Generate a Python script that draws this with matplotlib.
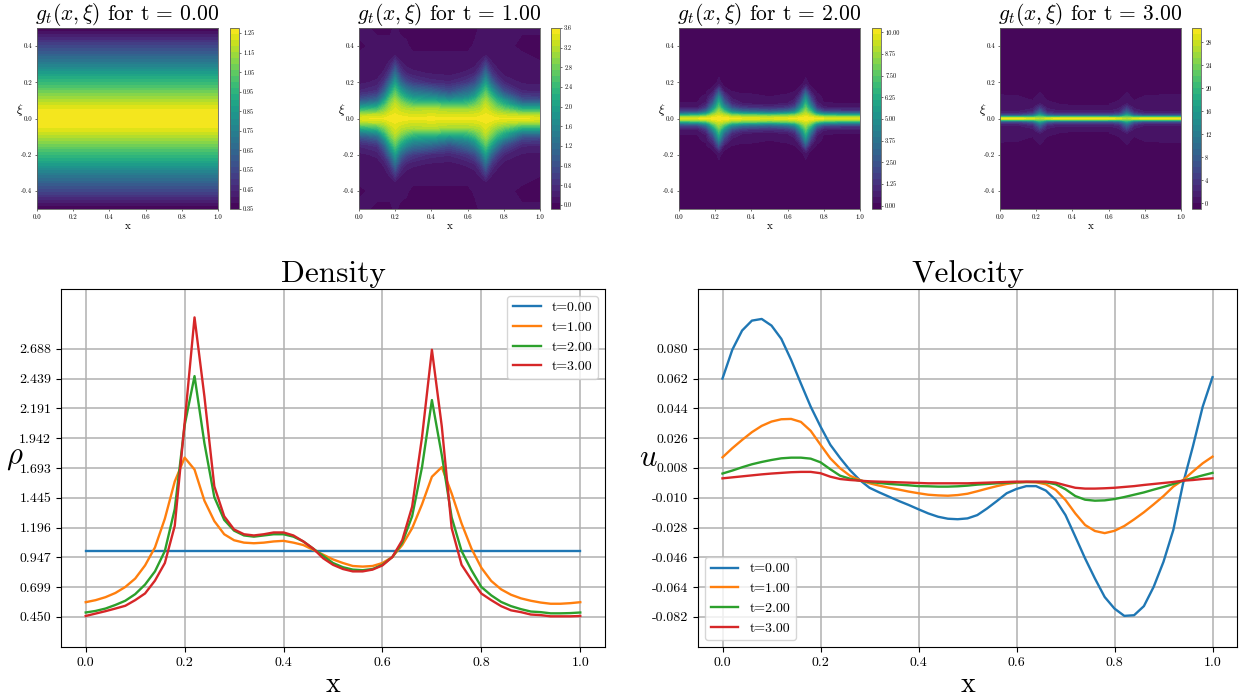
import numpy as np
import matplotlib
matplotlib.use('Agg')
import matplotlib.pyplot as plt

plt.rcParams['font.family'] = ['cmr10', 'DejaVu Serif']
plt.rcParams['mathtext.fontset'] = 'cm'
plt.rcParams['axes.unicode_minus'] = False
plt.rcParams['axes.formatter.use_mathtext'] = True

W, H = 1241, 700

times = ['0.00', '1.00', '2.00', '3.00']
x_line = [i / 50 for i in range(51)]

rho_t0 = [1.0] * 51
rho_t1 = [.573, .59, .615, .65, .70, .77, .88, 1.03, 1.27, 1.58, 1.78, 1.68, 1.42, 1.25, 1.14, 1.09, 1.07, 1.065, 1.07, 1.08, 1.085, 1.07, 1.05, 1.01, .97, .93, .90, .875, .87, .875, .90, .95, 1.05, 1.19, 1.39, 1.62, 1.70, 1.48, 1.23, 1.02, .86, .75, .68, .635, .605, .585, .57, .56, .56, .565, .573]
rho_t2 = [.487, .50, .52, .55, .585, .64, .72, .83, 1.00, 1.35, 2.05, 2.46, 1.90, 1.45, 1.26, 1.17, 1.13, 1.12, 1.13, 1.14, 1.14, 1.12, 1.08, 1.02, .96, .90, .865, .845, .84, .85, .885, .95, 1.07, 1.29, 1.70, 2.26, 1.80, 1.28, 1.0, .84, .70, .63, .575, .54, .515, .495, .49, .48, .48, .482, .487]
rho_t3 = [.458, .478, .498, .52, .543, .59, .646, .753, .90, 1.21, 2.07, 2.95, 2.29, 1.54, 1.29, 1.18, 1.14, 1.13, 1.14, 1.155, 1.155, 1.13, 1.08, 1.02, .94, .885, .85, .83, .83, .845, .88, .95, 1.09, 1.37, 1.95, 2.68, 2.04, 1.19, .885, .76, .645, .59, .54, .505, .49, .47, .465, .455, .455, .455, .458]

u_t0 = [.062, .0794, .091, .097, .098, .094, .086, .0733, .059, .045, .033, .022, .014, .0067, .0007, -.004, -.0068, -.0094, -.012, -.0144, -.017, -.0195, -.0215, -.0227, -.023, -.0225, -.0205, -.0165, -.012, -.0073, -.0047, -.003, -.003, -.0057, -.0114, -.0205, -.0335, -.0467, -.0588, -.07, -.077, -.0814, -.081, -.0755, -.0638, -.0487, -.0295, -.0013, .021, .045, .0628]
u_t1 = [.0144, .0199, .0249, .0296, .0334, .036, .0374, .0376, .0358, .0304, .022, .0138, .0078, .0033, .0007, -.0013, -.0027, -.004, -.0051, -.0063, -.0073, -.0082, -.0086, -.0088, -.0084, -.0076, -.0061, -.0045, -.003, -.0017, -.0009, -.0005, -.0007, -.0019, -.0053, -.0114, -.0195, -.0265, -.0301, -.0314, -.03, -.0271, -.0231, -.0188, -.014, -.009, -.0033, .0007, .0058, .0108, .0148]
u_t2 = [.0046, .0064, .0084, .0102, .0116, .0128, .0138, .0142, .0142, .0136, .0114, .0072, .0033, .0015, .0003, -.0005, -.0011, -.0017, -.0021, -.0025, -.003, -.0031, -.0033, -.0033, -.0031, -.0027, -.0021, -.0017, -.0013, -.0009, -.0007, -.0005, -.0005, -.0007, -.0019, -.0049, -.009, -.0112, -.0118, -.0116, -.0108, -.0096, -.0082, -.0068, -.0051, -.0035, -.0017, .0003, .0019, .0035, .005]
u_t3 = [.0017, .0023, .0029, .0035, .0041, .0046, .005, .0054, .0056, .0056, .0048, .0027, .0013, .0007, .0003, -.0001, -.0003, -.0005, -.0007, -.0009, -.0011, -.0013, -.0013, -.0013, -.0013, -.0013, -.0011, -.0009, -.0007, -.0005, -.0003, -.0003, -.0003, -.0003, -.0009, -.0025, -.004, -.0045, -.0045, -.0043, -.004, -.0035, -.003, -.0023, -.0017, -.0011, -.0005, .0003, .0007, .0013, .0017]

rho_ticks = [0.450, 0.699, 0.947, 1.196, 1.445, 1.693, 1.942, 2.191, 2.439, 2.688]
u_ticks = [-0.082, -0.064, -0.046, -0.028, -0.010, 0.008, 0.026, 0.044, 0.062, 0.080]

# heatmaps: only xi >= 0 is read, the lower half mirrors it
g0_xi = [0, .02, .04, .06, .08, .1, .12, .14, .16, .18, .2, .22, .24, .26, .28, .3, .32, .34, .36, .38, .4, .42, .44, .46, .48, .5]
g0_x = [0, 1]
g0_vals = [[v, v] for v in [1.276, 1.27, 1.26, 1.235, 1.2, 1.165, 1.13, 1.09, 1.05, 1.01, .97, .93, .89, .85, .80, .75, .705, .665, .625, .585, .545, .505, .465, .43, .39, .35]]

g1_x = [0, .1, .14, .17, .2, .23, .26, .3, .4, .5, .6, .64, .67, .7, .73, .76, .8, .9, 1]
g1_xi = [0, .02, .05, .08, .1, .12, .15, .2, .25, .3, .35, .4, .5]
g1_vals = [
    [3.45, 3.5, 3.5, 3.55, 3.6, 3.55, 3.55, 3.5, 3.55, 3.5, 3.5, 3.5, 3.55, 3.6, 3.55, 3.5, 3.5, 3.5, 3.45],
    [3.2, 3.25, 3.3, 3.45, 3.5, 3.45, 3.4, 3.35, 3.4, 3.35, 3.35, 3.4, 3.45, 3.5, 3.45, 3.35, 3.3, 3.2, 3.2],
    [2.3, 2.5, 2.9, 3.2, 3.4, 3.25, 3.2, 3.15, 3.2, 3.1, 3.1, 3.15, 3.2, 3.4, 3.2, 3.0, 2.8, 2.3, 2.3],
    [1.4, 1.7, 2.4, 2.95, 3.25, 3.0, 2.8, 2.6, 2.6, 2.4, 2.5, 2.7, 2.95, 3.25, 2.95, 2.6, 2.2, 1.4, 1.4],
    [.9, 1.2, 2.0, 2.75, 3.1, 2.75, 2.45, 2.2, 2.1, 1.9, 2.1, 2.4, 2.8, 3.1, 2.75, 2.3, 1.9, .9, .85],
    [.6, .85, 1.6, 2.45, 2.9, 2.45, 2.1, 1.8, 1.7, 1.4, 1.65, 2.0, 2.5, 2.9, 2.45, 1.95, 1.4, .6, .55],
    [.3, .45, 1.05, 1.95, 2.6, 2.0, 1.6, 1.3, 1.1, .8, 1.2, 1.5, 2.05, 2.6, 2.0, 1.4, .8, .3, .28],
    [.12, .2, .5, 1.15, 1.9, 1.15, .75, .55, .35, .3, .5, .75, 1.2, 1.9, 1.15, .65, .3, .14, .12],
    [.08, .1, .2, .55, 1.2, .55, .3, .2, .15, .12, .2, .3, .6, 1.2, .55, .28, .12, .08, .08],
    [.06, .06, .1, .22, .6, .22, .12, .1, .1, .08, .08, .12, .25, .6, .22, .1, .08, .05, .05],
    [.05, .05, .06, .08, .15, .08, .05, .05, .05, .05, .05, .06, .08, .15, .08, .06, .05, .05, .03],
    [.03, .06, .06, .06, .08, .06, .05, .03, .03, .03, .03, .05, .06, .08, .06, .05, .06, .03, .03],
    [.06, .03, .03, .03, .05, .03, .03, .03, .03, .03, .03, .03, .05, .08, .05, .05, .05, .05, .05],
]

g2_x = [0, .1, .15, .19, .22, .25, .29, .35, .4, .5, .6, .64, .67, .7, .73, .76, .8, .9, 1]
g2_xi = [0, .01, .02, .03, .04, .06, .08, .1, .12, .15, .18, .2, .3, .5]
g2_vals = [
    [9.9, 9.9, 9.95, 10.1, 10.2, 10.1, 10, 9.9, 9.8, 9.8, 9.9, 10, 10.1, 10.2, 10.1, 10, 9.9, 9.9, 9.9],
    [8.3, 8.5, 8.9, 9.6, 9.9, 9.7, 9.3, 9.0, 9, 8.8, 9, 9.2, 9.6, 9.9, 9.6, 9.1, 8.6, 8.3, 8.3],
    [5.8, 6, 7, 8.8, 9.5, 9, 8, 7.6, 7.5, 7, 7.6, 8, 8.8, 9.5, 8.8, 7.2, 6.2, 5.8, 5.8],
    [3.3, 3.5, 5, 7.8, 9.1, 8, 6.2, 5.2, 5, 4.6, 5.2, 6, 7.8, 9.1, 7.8, 5.2, 3.8, 3.3, 3.3],
    [1.7, 1.8, 3.3, 6.8, 8.6, 7, 4.6, 3.4, 3.2, 2.8, 3.4, 4.4, 6.8, 8.6, 6.8, 3.5, 2, 1.6, 1.6],
    [.5, .5, 1.5, 4.9, 7.6, 5, 2.4, 1.4, 1.3, 1.1, 1.4, 2.3, 4.9, 7.6, 4.9, 1.6, .6, .4, .4],
    [.2, .2, .7, 3.4, 6.6, 3.5, 1.2, .55, .5, .45, .55, 1.1, 3.4, 6.6, 3.4, .8, .2, .15, .15],
    [.1, .1, .35, 2.2, 5.6, 2.3, .65, .3, .3, .25, .3, .6, 2.2, 5.6, 2.2, .4, .1, .1, .1],
    [.1, .1, .2, 1.4, 4.4, 1.5, .35, .2, .2, .15, .2, .3, 1.4, 4.4, 1.4, .25, .1, .05, .05],
    [.05, .05, .1, .5, 2.4, .5, .15, .1, .1, .05, .1, .15, .5, 2.4, .5, .12, .05, .05, .05],
    [.03, .03, .05, .1, .7, .1, .05, .03, .03, .03, .03, .05, .1, .7, .1, .05, .03, .03, .03],
    [.05, .03, .03, .05, .2, .05, .03, .03, .03, .02, .02, .03, .05, .2, .05, .03, .02, .03, .03],
    [.03, .03, .01, .01, .01, .01, .01, .01, .01, .01, .01, .01, .01, .01, .01, .01, .01, .03, .01],
    [.01] * 19,
]

g3_x = [0, .1, .18, .22, .26, .33, .4, .5, .6, .66, .7, .74, .8, .9, 1]
g3_xi = [0, .005, .01, .015, .02, .03, .04, .06, .08, .1, .15, .5]
g3_vals = [
    [30, 30, 29, 27, 29, 30, 30, 30, 30, 29, 27, 29, 30, 30, 30],
    [26, 26, 25, 25, 25, 27, 27, 27, 27, 25, 25, 25, 26, 26, 26],
    [17, 17, 18, 22, 18, 18, 18, 18, 18, 18, 22, 18, 17, 17, 17],
    [9, 9, 12, 19, 12, 10, 10, 10, 10, 12, 19, 12, 9, 9, 9],
    [5, 5, 8, 16, 8, 6, 6, 6, 6, 8, 16, 8, 5, 5, 5],
    [2, 2, 4, 11, 4, 2.5, 2.5, 2.5, 2.5, 4, 11, 4, 2, 2, 2],
    [1, 1, 2, 8, 2, 1.2, 1.2, 1.2, 1.2, 2, 8, 2, 1, 1, 1],
    [.5, .5, .8, 4, .8, .3, .1, .1, .1, .8, 4, .8, .5, .5, .5],
    [.2, .2, .3, 1.2, .3, .02, .02, .02, .02, .3, 1.2, .3, .2, .2, .2],
    [.1, .08, .05, .3, .05, .02, .02, .02, .02, .05, .3, .05, .08, .1, .1],
    [.02, .02, .02, .02, .02, .02, .02, .02, .02, .02, .02, .02, .02, .02, .02],
    [0, 0, 0, 0, 0, 0, 0, 0, 0, 0, 0, 0, 0, 0, 0],
]

heat_x = [g0_x, g1_x, g2_x, g3_x]
heat_xi = [g0_xi, g1_xi, g2_xi, g3_xi]
heat_vals = [g0_vals, g1_vals, g2_vals, g3_vals]
heat_ranges = [(.35, 1.276), (-.08, 3.6), (-.2, 10.25), (-1, 30.5)]
cbar_ticks = [
    [.35, .45, .55, .65, .75, .85, .95, 1.05, 1.15, 1.25],
    [0, .4, .8, 1.2, 1.6, 2.0, 2.4, 2.8, 3.2, 3.6],
    [0, 1.25, 2.5, 3.75, 5, 6.25, 7.5, 8.75, 10],
    [0, 4, 8, 12, 16, 20, 24, 28],
]
cbar_fmt = ['%.2f', '%.1f', '%.2f', '%d']
heat_left = [37, 359, 679, 1000]
cbar_left = [230, 551, 872, 1192]


def px_axes(fig, left, top, right, bottom):
    return fig.add_axes([left / W, 1 - bottom / H, (right - left) / W, (bottom - top) / H])


fig = plt.figure(figsize=(W / 100, H / 100), dpi=100)

for i in range(4):
    ax = px_axes(fig, heat_left[i], 28, heat_left[i] + 181, 209)
    xi = np.array(heat_xi[i])
    vals = np.array(heat_vals[i])
    xi_full = np.concatenate([-xi[:0:-1], xi])
    vals_full = np.vstack([vals[:0:-1], vals])
    vmin, vmax = heat_ranges[i]
    cf = ax.contourf(heat_x[i], xi_full, vals_full, levels=np.linspace(vmin, vmax, 31), cmap='viridis')
    ax.set_xlim(0, 1)
    ax.set_ylim(-.5, .5)
    ax.set_xticks([0, .2, .4, .6, .8, 1])
    ax.set_xticklabels(['0.0', '0.2', '0.4', '0.6', '0.8', '1.0'])
    ax.set_yticks([-.4, -.2, 0, .2, .4])
    ax.set_yticklabels(['-0.4', '-0.2', '0.0', '0.2', '0.4'])
    ax.tick_params(labelsize=5, length=1.5, width=.4, pad=2)
    ax.set_title(r'$g_t(x,\xi)$ for t = ' + times[i], fontsize=15.5, pad=2)
    ax.set_xlabel('x', fontsize=8, labelpad=1.5)
    ax.set_ylabel(r'$\xi$', fontsize=9, rotation=0, labelpad=1)
    for s in ax.spines.values():
        s.set_linewidth(.6)
        s.set_color('#606060')
    cax = px_axes(fig, cbar_left[i], 28, cbar_left[i] + 9, 209)
    cb = fig.colorbar(cf, cax=cax, ticks=cbar_ticks[i], format=cbar_fmt[i])
    cb.ax.tick_params(labelsize=4.5, length=1.5, width=.4, pad=1.5)
    cb.outline.set_linewidth(.6)
    cb.outline.set_edgecolor('#606060')

ax_rho = px_axes(fig, 61, 289, 605, 647)
for vals, t in zip([rho_t0, rho_t1, rho_t2, rho_t3], times):
    ax_rho.plot(x_line, vals, lw=1.7, label='t=' + t)
ax_rho.set_ylim(.199, 3.187)
ax_rho.set_yticks(rho_ticks)
ax_rho.set_yticklabels(['%.3f' % v for v in rho_ticks])
ax_rho.set_title('Density', fontsize=22.5, pad=5)
ax_rho.set_ylabel(r'$\rho$', fontsize=22, rotation=0)
ax_rho.yaxis.set_label_coords(-.085, .49, transform=ax_rho.transAxes)
ax_rho.legend(loc='upper right', fontsize=10)

ax_u = px_axes(fig, 698, 289, 1237, 647)
for vals, t in zip([u_t0, u_t1, u_t2, u_t3], times):
    ax_u.plot(x_line, vals, lw=1.7, label='t=' + t)
ax_u.set_ylim(-.1002, .1161)
ax_u.set_yticks(u_ticks)
ax_u.set_yticklabels(['%.3f' % v for v in u_ticks])
ax_u.set_title('Velocity', fontsize=22.5, pad=5)
ax_u.set_ylabel(r'$u$', fontsize=22, rotation=0)
ax_u.yaxis.set_label_coords(-.093, .49, transform=ax_u.transAxes)
ax_u.legend(loc='lower left', fontsize=10)

for ax in [ax_rho, ax_u]:
    ax.set_xticks([0, .2, .4, .6, .8, 1])
    ax.set_xticklabels(['0.0', '0.2', '0.4', '0.6', '0.8', '1.0'])
    ax.tick_params(labelsize=10)
    ax.grid(True, color='#b0b0b0', lw=1.1)
    ax.set_xlabel('x', fontsize=20, labelpad=2)

fig.savefig('out.png', dpi=100)
